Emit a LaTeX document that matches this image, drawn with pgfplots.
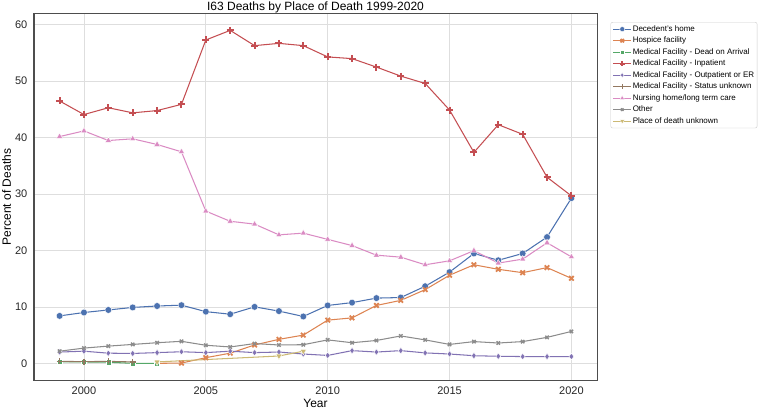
\documentclass[border=0pt]{standalone}
\usepackage{pgfplots}
\pgfplotsset{compat=1.18}
\usepackage{fontspec}
\setmainfont{Liberation Sans}
\definecolor{cblue}{HTML}{4C72B0}
\definecolor{corange}{HTML}{DD8452}
\definecolor{cgreen}{HTML}{55A868}
\definecolor{cred}{HTML}{C44E52}
\definecolor{cpurple}{HTML}{8172B3}
\definecolor{cbrown}{HTML}{937860}
\definecolor{cpink}{HTML}{DA8BC3}
\definecolor{cgrey}{HTML}{8C8C8C}
\definecolor{cyellow}{HTML}{CCB974}
\definecolor{gridc}{HTML}{DEDEDE}
\definecolor{framec}{HTML}{4D4D4D}
\begin{document}
\begin{tikzpicture}[x=1pt,y=1pt]
\useasboundingbox (0,0) rectangle (763,410);
\begin{axis}[
  at={(34pt,30pt)}, anchor=south west,
  scale only axis, width=563pt, height=366pt,
  xmin=1997.95, xmax=2021.05, ymin=-2.9, ymax=61.9,
  xtick={2000,2005,2010,2015,2020},
  ytick={0,10,20,30,40,50,60},
  xticklabel style={/pgf/number format/1000 sep={}},
  /pgf/number format/assume math mode=true,
  tick style={draw=none},
  grid=major,
  major grid style={color=gridc, line width=0.8pt},
  axis line style={color=framec, line width=1pt},
  tick label style={font=\fontsize{11}{13}\selectfont, color=black!85},
  yticklabel style={inner sep=0pt, xshift=-6.5pt},
  xticklabel style={inner sep=0pt, yshift=-6.5pt},
  title={I63 Deaths by Place of Death 1999-2020},
  every axis title/.style={at={(axis description cs:0.5,1)}, anchor=base, inner sep=0pt, yshift=3.5pt, font=\fontsize{12}{14}\selectfont},
  xlabel={Year},
  xlabel style={at={(axis description cs:0.5,0)}, anchor=base, inner sep=0pt, yshift=-27.3pt, font=\fontsize{12}{14}\selectfont},
  ylabel={Percent of Deaths},
  ylabel style={at={(axis description cs:-0.0485,0.5)}, anchor=center, inner sep=0pt, font=\fontsize{12}{14}\selectfont},
  every axis plot/.append style={line width=1.05pt},
  legend style={at={(axis description cs:1.024,0.978)}, anchor=north west,
    draw=black!20, rounded corners=2pt, fill=white,
    font=\fontsize{8}{9.5}\selectfont, inner sep=2pt,
    row sep=1.7pt,
    nodes={inner sep=1pt, text height=6pt, text depth=1.8pt}},
  legend cell align=left,
  legend image code/.code={
    \draw[mark repeat=2,mark phase=2, every mark/.append style={scale=0.75}]
      plot coordinates {(0pt,0pt) (9pt,0pt) (18pt,0pt)};
  },
]
\addplot[color=cblue, mark=*, mark size=3.4pt, mark options={fill=cblue, draw=white, line width=0.4pt}] coordinates {
(1999,8.45) (2000,9.05) (2001,9.5) (2002,9.95) (2003,10.2) (2004,10.35) (2005,9.2) (2006,8.75) (2007,10.05) (2008,9.3) (2009,8.35) (2010,10.3) (2011,10.8) (2012,11.6) (2013,11.7) (2014,13.7) (2015,16.2) (2016,19.5) (2017,18.3) (2018,19.5) (2019,22.4) (2020,29.3)};
\addlegendentry{Decedent's home}
\addplot[color=corange, mark=x, mark size=3.2pt, mark options={line width=1.8pt, solid}] coordinates {
(2003,0.05) (2004,0.1) (2005,1.05) (2006,1.85) (2007,3.3) (2008,4.3) (2009,5.05) (2010,7.7) (2011,8.1) (2012,10.3) (2013,11.2) (2014,13.1) (2015,15.65) (2016,17.5) (2017,16.7) (2018,16.1) (2019,17.0) (2020,15.1)};
\addlegendentry{Hospice facility}
\addplot[color=cgreen, mark=square*, mark size=2.6pt, mark options={fill=cgreen, draw=white, line width=0.4pt}] coordinates {
(1999,0.3) (2000,0.3) (2001,0.25) (2002,0.05) (2003,0.05)};
\addlegendentry{Medical Facility - Dead on Arrival}
\addplot[color=cred, mark=+, mark size=3.5pt, mark options={line width=2pt, solid}] coordinates {
(1999,46.5) (2000,44.1) (2001,45.3) (2002,44.4) (2003,44.8) (2004,45.9) (2005,57.3) (2006,59.0) (2007,56.3) (2008,56.7) (2009,56.3) (2010,54.3) (2011,54.0) (2012,52.5) (2013,50.9) (2014,49.6) (2015,44.9) (2016,37.4) (2017,42.3) (2018,40.6) (2019,33.0) (2020,29.7)};
\addlegendentry{Medical Facility - Inpatient}
\addplot[color=cpurple, mark=diamond*, mark size=3.2pt, mark options={fill=cpurple, draw=white, line width=0.4pt}] coordinates {
(1999,2.05) (2000,2.2) (2001,1.85) (2002,1.8) (2003,1.95) (2004,2.1) (2005,1.95) (2006,2.2) (2007,1.95) (2008,2.05) (2009,1.7) (2010,1.45) (2011,2.3) (2012,2.05) (2013,2.3) (2014,1.9) (2015,1.7) (2016,1.4) (2017,1.3) (2018,1.25) (2019,1.25) (2020,1.25)};
\addlegendentry{Medical Facility - Outpatient or ER}
\addplot[color=cbrown, mark=+, mark size=3pt, mark options={line width=1.3pt, solid}] coordinates {
(1999,0.4) (2000,0.35) (2001,0.4) (2002,0.3)};
\addlegendentry{Medical Facility - Status unknown}
\addplot[color=cpink, mark=triangle*, mark size=3.6pt, mark options={fill=cpink, draw=white, line width=0.4pt}] coordinates {
(1999,40.2) (2000,41.2) (2001,39.5) (2002,39.8) (2003,38.8) (2004,37.5) (2005,27.0) (2006,25.2) (2007,24.7) (2008,22.8) (2009,23.1) (2010,22.0) (2011,20.9) (2012,19.2) (2013,18.85) (2014,17.5) (2015,18.2) (2016,20.0) (2017,17.8) (2018,18.5) (2019,21.4) (2020,18.9)};
\addlegendentry{Nursing home/long term care}
\addplot[color=cgrey, mark=x, mark size=2.4pt, mark options={line width=1.4pt, solid}] coordinates {
(1999,2.2) (2000,2.75) (2001,3.1) (2002,3.4) (2003,3.7) (2004,3.95) (2005,3.25) (2006,2.95) (2007,3.55) (2008,3.3) (2009,3.35) (2010,4.2) (2011,3.7) (2012,4.1) (2013,4.9) (2014,4.2) (2015,3.4) (2016,3.9) (2017,3.65) (2018,3.9) (2019,4.65) (2020,5.7)};
\addlegendentry{Other}
\addplot[color=cyellow, mark=triangle*, mark size=3.6pt, mark options={fill=cyellow, draw=white, line width=0.4pt, rotate=180}] coordinates {
(2003,0.3) (2008,1.35) (2009,2.2)};
\addlegendentry{Place of death unknown}
\end{axis}
\end{tikzpicture}
\end{document}
